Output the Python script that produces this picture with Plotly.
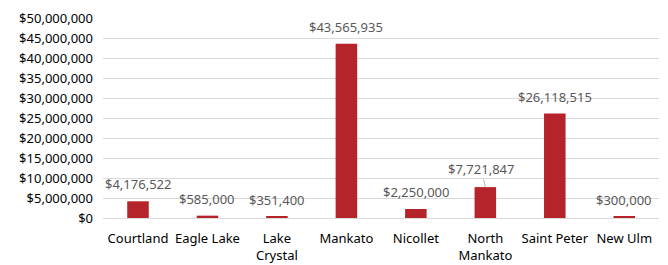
import plotly.graph_objects as go

categories = ["Courtland", "Eagle Lake", "Lake<br>Crystal", "Mankato", "Nicollet",
              "North<br>Mankato", "Saint Peter", "New Ulm"]
values = [4176522, 585000, 351400, 43565935, 2250000, 7721847, 26118515, 300000]
tick_vals = list(range(0, 50000001, 5000000))
tick_text = ["${:,}".format(v) for v in tick_vals]

bar_color = "#B5232B"
font_family = "Noto Sans, Open Sans, sans-serif"

fig = go.Figure()
fig.add_trace(go.Bar(
    x=categories, y=values, marker=dict(color=bar_color, line=dict(width=0)),
    width=0.31, hoverinfo="skip",
))

for c, v in zip(categories, values):
    label = "${:,}".format(v)
    if c.startswith("North"):
        fig.add_annotation(x=c, y=v, text=label, showarrow=True, arrowhead=0,
                           arrowwidth=0.8, arrowcolor="#a6a6a6", ax=-4, ay=-18,
                           font=dict(size=13, color="#595959", family=font_family),
                           standoff=0)
    else:
        fig.add_annotation(x=c, y=v, text=label, showarrow=False, yanchor="bottom",
                           yshift=6, font=dict(size=13, color="#595959", family=font_family))

# page body has an 8px margin, so the figure is sized/offset to compensate
fig.update_layout(
    width=660, height=257,
    margin=dict(l=95, r=9, t=10, b=47, autoexpand=False),
    paper_bgcolor="white", plot_bgcolor="white",
    showlegend=False,
    font=dict(family=font_family, size=13, color="#000000"),
)
fig.update_xaxes(showline=False, ticks="", automargin=False, ticklabelstandoff=11,
                 tickfont=dict(size=13, color="#000"))
fig.update_yaxes(range=[0, 50000000], tickvals=tick_vals, ticktext=tick_text, automargin=False,
                 showgrid=True, gridcolor="#d9d9d9", gridwidth=1, zeroline=True,
                 zerolinecolor="#d9d9d9", zerolinewidth=1, ticks="", showline=False,
                 tickfont=dict(size=13, color="#000"), ticklabelstandoff=9)

fig.write_html("out.html")
